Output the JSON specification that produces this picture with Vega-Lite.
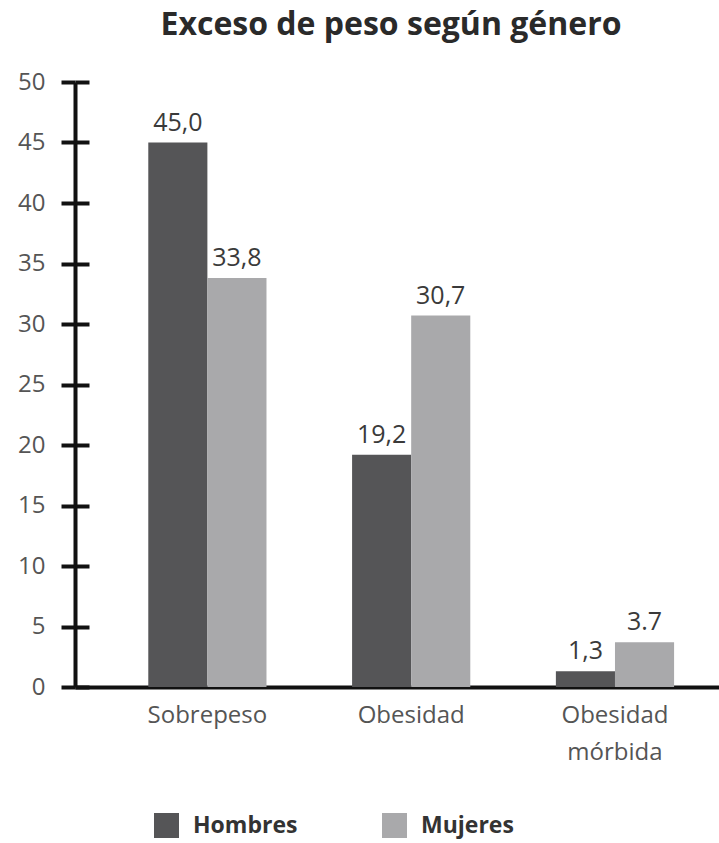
{
  "$schema": "https://vega.github.io/schema/vega-lite/v6.json",
  "autosize": "none",
  "padding": {"left": 75, "top": 82, "right": 0, "bottom": 156},
  "width": 644,
  "height": 605,
  "background": "white",
  "title": {
    "text": "Exceso de peso según género",
    "font": "Open Sans",
    "fontSize": 32,
    "fontWeight": "bold",
    "color": "#2a2a2a",
    "anchor": "middle",
    "dx": -6,
    "offset": 28
  },
  "data": {
    "values": [
      {"categoria": "Sobrepeso", "genero": "Hombres", "valor": 45.0, "etiqueta": "45,0"},
      {"categoria": "Sobrepeso", "genero": "Mujeres", "valor": 33.8, "etiqueta": "33,8"},
      {"categoria": "Obesidad", "genero": "Hombres", "valor": 19.2, "etiqueta": "19,2"},
      {"categoria": "Obesidad", "genero": "Mujeres", "valor": 30.7, "etiqueta": "30,7"},
      {"categoria": "Obesidad mórbida", "genero": "Hombres", "valor": 1.3, "etiqueta": "1,3"},
      {"categoria": "Obesidad mórbida", "genero": "Mujeres", "valor": 3.7, "etiqueta": "3.7"}
    ]
  },
  "encoding": {
    "x": {
      "field": "categoria",
      "type": "nominal",
      "sort": ["Sobrepeso", "Obesidad", "Obesidad mórbida"],
      "scale": {"paddingInner": 0.42, "paddingOuter": 0.29, "align": 0.62},
      "axis": {
        "title": null,
        "labelAngle": 0,
        "labelFont": "Open Sans",
        "labelFontSize": 24,
        "labelColor": "#555555",
        "labelPadding": 16,
        "labelLineHeight": 37,
        "labelBaseline": "top",
        "ticks": false,
        "domainColor": "#111111",
        "domainWidth": 4,
        "labelExpr": "datum.label == 'Obesidad mórbida' ? ['Obesidad', 'mórbida'] : datum.label"
      }
    },
    "xOffset": {"field": "genero", "type": "nominal", "sort": ["Hombres", "Mujeres"]}
  },
  "layer": [
    {
      "mark": {"type": "bar"},
      "encoding": {
        "y": {
          "field": "valor",
          "type": "quantitative",
          "scale": {"domain": [0, 50], "nice": false},
          "axis": {
            "title": null,
            "values": [0, 5, 10, 15, 20, 25, 30, 35, 40, 45, 50],
            "grid": false,
            "tickSize": 14,
            "tickWidth": 4,
            "tickColor": "#111111",
            "domainColor": "#111111",
            "domainWidth": 4,
            "labelFont": "Open Sans",
            "labelFontSize": 24,
            "labelColor": "#555555",
            "labelPadding": 16
          }
        },
        "color": {
          "field": "genero",
          "type": "nominal",
          "scale": {"domain": ["Hombres", "Mujeres"], "range": ["#555557", "#a9a9ab"]},
          "legend": {
            "title": null,
            "orient": "none",
            "direction": "horizontal",
            "legendX": 79,
            "legendY": 731,
            "symbolType": "square",
            "symbolSize": 625,
            "symbolStrokeWidth": 0,
            "symbolOpacity": 1,
            "labelFont": "Open Sans",
            "labelFontSize": 23,
            "labelFontWeight": "bold",
            "labelColor": "#333333",
            "labelOffset": 14,
            "columnPadding": 84
          }
        }
      }
    },
    {
      "mark": {"type": "text", "baseline": "bottom", "dy": -7, "font": "Open Sans", "fontSize": 25, "color": "#3a3a3a"},
      "encoding": {
        "y": {
          "field": "valor",
          "type": "quantitative",
          "scale": {"domain": [0, 50], "nice": false},
          "axis": {
            "orient": "left",
            "offset": -14,
            "title": null,
            "values": [0, 5, 10, 15, 20, 25, 30, 35, 40, 45, 50],
            "grid": false,
            "labels": false,
            "domain": false,
            "tickSize": 14,
            "tickWidth": 4,
            "tickColor": "#111111"
          }
        },
        "text": {"field": "etiqueta"}
      }
    }
  ],
  "resolve": {"scale": {"y": "independent"}},
  "config": {"view": {"stroke": null}}
}
